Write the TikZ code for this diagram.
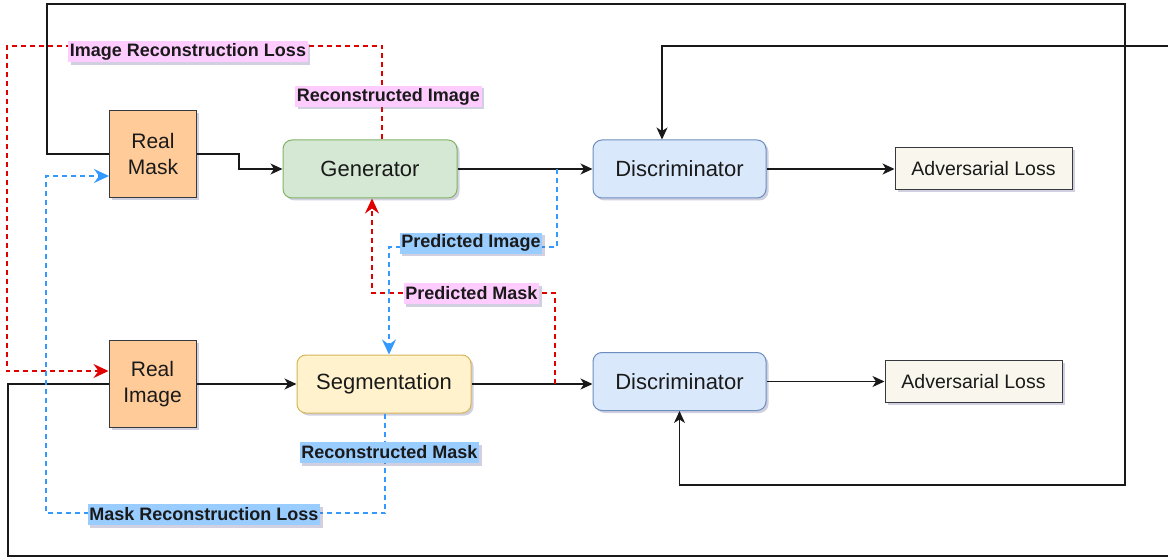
\documentclass[tikz,border=0pt]{standalone}
\usepackage{fontspec}
\setmainfont{Liberation Sans}
\usetikzlibrary{arrows.meta,shadows}
\definecolor{orangefill}{HTML}{FFCC99}
\definecolor{darkline}{HTML}{36393D}
\definecolor{genfill}{HTML}{D5E8D4}
\definecolor{genline}{HTML}{82B366}
\definecolor{segfill}{HTML}{FFF2CC}
\definecolor{segline}{HTML}{D6B656}
\definecolor{discfill}{HTML}{DAE8FC}
\definecolor{discline}{HTML}{6C8EBF}
\definecolor{lossfill}{HTML}{F9F7ED}
\definecolor{redline}{HTML}{E00000}
\definecolor{blueline}{HTML}{3399FF}
\definecolor{pinklabel}{HTML}{FFCCFF}
\definecolor{bluelabel}{HTML}{99CCFF}
\definecolor{textcol}{HTML}{1A1A1A}
\begin{document}
\begin{tikzpicture}[x=1pt,y=-1pt,
  shad/.style={drop shadow={shadow xshift=2.5pt,shadow yshift=-2.5pt,opacity=0.3,fill=gray!80!blue}},
  basebox/.style={shad,inner sep=0pt,text=textcol,line width=1pt,align=center},
  realbox/.style={basebox,draw=darkline,fill=orangefill,minimum width=87pt,minimum height=87pt,font=\fontsize{21}{26}\selectfont},
  procbox/.style={basebox,rounded corners=9pt,minimum width=174pt,minimum height=58pt,font=\fontsize{22}{26}\selectfont},
  lossbox/.style={basebox,draw=darkline,fill=lossfill,minimum width=177pt,minimum height=42pt,font=\fontsize{19.5}{24}\selectfont},
  conn/.style={line width=1.3pt,draw=black!90},
  arr/.style={conn,-{Stealth[length=12pt,width=11pt,inset=3.5pt]}},
  reddash/.style={line width=1.6pt,draw=redline,dash pattern=on 5pt off 4pt},
  bluedash/.style={line width=1.6pt,draw=blueline,dash pattern=on 5pt off 4pt},
  redarr/.style={reddash,-{Stealth[length=15pt,width=14pt,inset=5pt,fill=redline]}},
  bluearr/.style={bluedash,-{Stealth[length=15pt,width=14pt,inset=5pt,fill=blueline]}},
  lbl/.style={shad,inner xsep=1.5pt,inner ysep=0pt,minimum height=21pt,text=textcol,font=\fontsize{18}{20}\selectfont\bfseries},
  pinklbl/.style={lbl,fill=pinklabel},
  bluelbl/.style={lbl,fill=bluelabel}
]
\useasboundingbox (0,0) rectangle (1168,559);
\fill[white] (0,0) rectangle (1168,559);

% nodes
\node[realbox] (rm) at (153,154) {Real\\Mask};
\node[realbox] (ri) at (152.5,384) {Real\\Image};
\node[procbox,draw=genline,fill=genfill] (gen) at (370,169) {Generator};
\node[procbox,draw=segline,fill=segfill] (seg) at (384,384) {Segmentation};
\node[procbox,draw=discline,fill=discfill,minimum width=173pt] (dt) at (679.5,169) {Discriminator};
\node[procbox,draw=discline,fill=discfill,minimum width=173pt] (db) at (679.5,381.5) {Discriminator};
\node[lossbox] (at) at (983.5,169) {Adversarial Loss};
\node[lossbox] (ab) at (973.5,381.5) {Adversarial Loss};

% solid connectors
\draw[arr] (rm.east) -- (239,154) |- (gen.west);
\draw[arr] (gen.east) -- (dt.west);
\draw[arr] (dt.east) -- (at.west);
\draw[arr] (ri.east) -- (seg.west);
\draw[arr] (seg.east) -- (db.west |- seg.east);
\draw[arr] (db.east) -- (ab.west);
\draw[arr] (rm.west) -- (47,154) -- (47,4) -- (1125,4) -- (1125,485) -- (679.5,485) -- (db.south);
\draw[arr] (ri.west) -- (8,384) -- (8,556) -- (1200,556) -- (1200,46) -- (662,46) -- ([xshift=-17.5pt]dt.north);

% dashed connectors
\coordinate (pmstart) at (555,384);
\coordinate (pistart) at (557,169);
\draw[redarr] ([xshift=12pt]gen.north) -- (382,46) -- (7,46) -- (7,371) -- (ri.west |- 0,371);
\draw[redarr] (pmstart) -- (555,293) -- (372,293) -- (gen.south -| 372,0);
\draw[bluearr] (pistart) -- (557,247) -- (389,247) -- (seg.north -| 389,0);
\draw[bluearr] ([xshift=1pt]seg.south) -- (385,513) -- (46,513) -- (46,176) -- (rm.west |- 0,176);

% labels
\node[pinklbl] (lirl) at (188,52) {Image Reconstruction Loss};
\node[pinklbl] (lri) at (388.5,96.5) {Reconstructed Image};
\node[bluelbl] (lpi) at (471,243) {Predicted Image};
\node[pinklbl] (lpm) at (471.5,293.5) {Predicted Mask};
\node[bluelbl] (lrm) at (389.5,452.5) {Reconstructed Mask};
\node[bluelbl] (lmrl) at (204,514.5) {Mask Reconstruction Loss};
\end{tikzpicture}
\end{document}
